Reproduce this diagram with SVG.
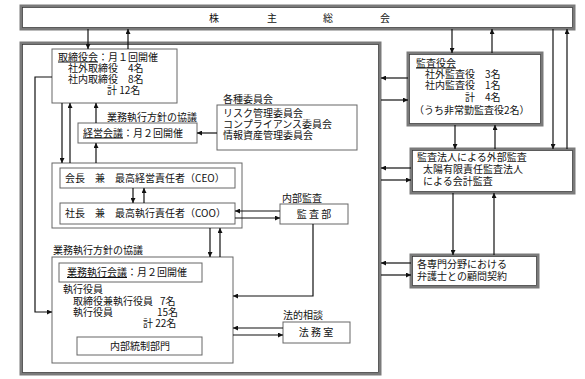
<svg xmlns="http://www.w3.org/2000/svg" width="585" height="379" viewBox="0 0 585 379">
<style>
text{font-family:"Noto Sans CJK JP","Liberation Sans",sans-serif;font-size:10px;fill:#111}
.thick{fill:#fff;stroke:#7a7a7a;stroke-width:3}
.thickin{fill:none;stroke:#333;stroke-width:0.7}
.thin{fill:#fff;stroke:#666;stroke-width:1}
.c{fill:none;stroke:#111;stroke-width:1.2}
.u{text-decoration:underline}
</style>
<defs>
<marker id="ah" viewBox="0 0 6 6" markerWidth="5" markerHeight="5" refX="6" refY="3" orient="auto" markerUnits="userSpaceOnUse">
<path d="M0,0 L6,3 L0,6 z" fill="#111"/>
</marker>
</defs>

<g id="shareholders">
<rect class="thick" x="21" y="6" width="553" height="23"/>
<rect class="thickin" x="22.5" y="7.5" width="550" height="20"/>
<text y="21.5" text-anchor="middle"><tspan x="214">株</tspan><tspan x="272">主</tspan><tspan x="328">総</tspan><tspan x="385">会</tspan></text>
</g>

<g id="company">
<rect class="thick" x="21" y="43" width="359" height="331"/>
<rect class="thickin" x="22.5" y="44.5" width="356" height="328"/>
</g>

<g id="board">
<rect class="thin" x="52" y="49" width="125" height="54"/>
<text><tspan x="58" y="60.5"><tspan class="u">取締役会</tspan>：月１回開催</tspan><tspan x="68" y="71.5">社外取締役　4名</tspan><tspan x="68" y="82.5">社内取締役　8名</tspan><tspan x="107" y="94">計 12名</tspan></text>
</g>

<g id="mgmt-meeting">
<text x="107" y="120.5">業務執行方針の協議</text>
<rect class="thin" x="78" y="123" width="119" height="20"/>
<text x="83" y="136.5"><tspan class="u">経営会議</tspan>：月２回開催</text>
</g>

<g id="committees">
<text x="223" y="102.5">各種委員会</text>
<rect class="thin" x="217" y="105" width="140" height="45"/>
<text><tspan x="223" y="117">リスク管理委員会</tspan><tspan x="223" y="128">コンプライアンス委員会</tspan><tspan x="223" y="139">情報資産管理委員会</tspan></text>
</g>

<g id="top-executives">
<rect class="thin" x="52" y="163" width="190" height="65"/>
<rect class="thin" x="60" y="168" width="175" height="20"/>
<text x="65" y="181.5">会長　兼　最高経営責任者（CEO）</text>
<rect class="thin" x="60" y="203" width="175" height="21"/>
<text x="65" y="216.5">社長　兼　最高執行責任者（COO）</text>
</g>

<g id="internal-audit">
<text x="282" y="201.5">内部監査</text>
<rect class="thin" x="280" y="204" width="68" height="20"/>
<text x="314" y="217.5" text-anchor="middle">監 査 部</text>
</g>

<g id="execution">
<text x="53" y="253.5">業務執行方針の協議</text>
<rect class="thin" x="52" y="257" width="181" height="106"/>
<rect class="thin" x="59" y="263" width="143" height="19"/>
<text x="67" y="276"><tspan class="u">業務執行会議</tspan>：月２回開催</text>
<text><tspan x="63" y="293">執行役員</tspan><tspan x="73" y="304.5">取締役兼執行役員</tspan><tspan x="160" y="304.5">7名</tspan><tspan x="73" y="315.5">執行役員</tspan><tspan x="157" y="315.5">15名</tspan><tspan x="143" y="327">計 22名</tspan></text>
<rect class="thin" x="77" y="337" width="125" height="18"/>
<text x="140" y="349.5" text-anchor="middle">内部統制部門</text>
</g>

<g id="legal">
<text x="283" y="318.5">法的相談</text>
<rect class="thin" x="283" y="322" width="67" height="21"/>
<text x="316" y="336" text-anchor="middle">法 務 室</text>
</g>

<g id="auditors">
<rect class="thick" x="408" y="53" width="134" height="72"/>
<rect class="thickin" x="409.5" y="54.5" width="131" height="69"/>
<text><tspan x="416" y="66.5" class="u">監査役会</tspan><tspan x="425" y="77.5">社外監査役　3名</tspan><tspan x="425" y="89">社内監査役　1名</tspan><tspan x="465" y="100.5">計　4名</tspan><tspan x="414" y="113.5">（うち非常勤監査役2名）</tspan></text>
</g>

<g id="external-audit">
<rect class="thick" x="411" y="149" width="163" height="44"/>
<rect class="thickin" x="412.5" y="150.5" width="160" height="41"/>
<text><tspan x="417" y="161">監査法人による外部監査</tspan><tspan x="423" y="173">太陽有限責任監査法人</tspan><tspan x="423" y="185">による会計監査</tspan></text>
</g>

<g id="lawyers">
<rect class="thick" x="411" y="255" width="127" height="32"/>
<rect class="thickin" x="412.5" y="256.5" width="124" height="29"/>
<text><tspan x="417" y="267.5">各専門分野における</tspan><tspan x="417" y="279.5">弁護士との顧問契約</tspan></text>
</g>

<g id="connectors">
<line class="c" x1="88" y1="29" x2="88" y2="49" marker-end="url(#ah)"/>
<line class="c" x1="128" y1="49" x2="128" y2="29" marker-end="url(#ah)"/>
<line class="c" x1="452" y1="29" x2="452" y2="53" marker-end="url(#ah)"/>
<line class="c" x1="492" y1="53" x2="492" y2="29" marker-end="url(#ah)"/>
<line class="c" x1="553" y1="29" x2="553" y2="149" marker-end="url(#ah)"/>
<line class="c" x1="567" y1="149" x2="567" y2="29" marker-end="url(#ah)"/>
<line class="c" x1="455" y1="125" x2="455" y2="149" marker-end="url(#ah)"/>
<line class="c" x1="495" y1="149" x2="495" y2="125" marker-end="url(#ah)"/>
<line class="c" x1="453" y1="193" x2="453" y2="255" marker-end="url(#ah)"/>
<line class="c" x1="494" y1="255" x2="494" y2="193" marker-end="url(#ah)"/>
<line class="c" x1="408" y1="78" x2="381" y2="78" marker-end="url(#ah)"/>
<line class="c" x1="381" y1="100" x2="408" y2="100" marker-end="url(#ah)"/>
<line class="c" x1="411" y1="168" x2="381" y2="168" marker-end="url(#ah)"/>
<line class="c" x1="381" y1="180" x2="411" y2="180" marker-end="url(#ah)"/>
<line class="c" x1="411" y1="263" x2="381" y2="263" marker-end="url(#ah)"/>
<line class="c" x1="381" y1="275" x2="411" y2="275" marker-end="url(#ah)"/>
<line class="c" x1="62" y1="103" x2="62" y2="163" marker-end="url(#ah)"/>
<line class="c" x1="70" y1="163" x2="70" y2="103" marker-end="url(#ah)"/>
<line class="c" x1="96" y1="123" x2="96" y2="103" marker-end="url(#ah)"/>
<line class="c" x1="96" y1="163" x2="96" y2="143" marker-end="url(#ah)"/>
<line class="c" x1="217" y1="133" x2="197" y2="133" marker-end="url(#ah)"/>
<path class="c" d="M52,77 H35 V312 H52" marker-end="url(#ah)"/>
<line class="c" x1="133" y1="188" x2="133" y2="203" marker-end="url(#ah)"/>
<line class="c" x1="144" y1="203" x2="144" y2="188" marker-end="url(#ah)"/>
<line class="c" x1="210" y1="228" x2="210" y2="257" marker-end="url(#ah)"/>
<line class="c" x1="220" y1="257" x2="220" y2="228" marker-end="url(#ah)"/>
<line class="c" x1="280" y1="211" x2="235" y2="211" marker-end="url(#ah)"/>
<line class="c" x1="235" y1="218" x2="280" y2="218" marker-end="url(#ah)"/>
<path class="c" d="M313,224 V296 H233" marker-end="url(#ah)"/>
<line class="c" x1="283" y1="328" x2="233" y2="328" marker-end="url(#ah)"/>
<line class="c" x1="233" y1="335" x2="283" y2="335" marker-end="url(#ah)"/>
</g>
</svg>
